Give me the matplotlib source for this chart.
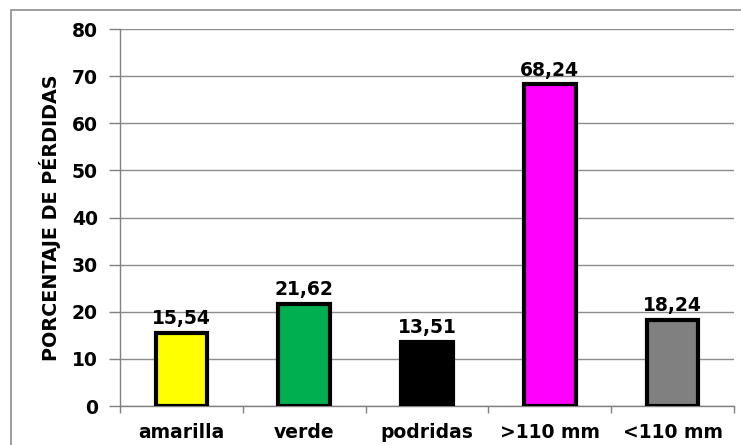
import numpy as np
import matplotlib.pyplot as plt
from matplotlib.patches import Rectangle

# datos
categorias = ['amarilla', 'verde', 'podridas', '>110 mm', '<110 mm']
porcentajes = [15.54, 21.62, 13.51, 68.24, 18.24]
colores = ['#FFFF00', '#00B050', '#000000', '#FF00FF', '#808080']
yticks = [0, 10, 20, 30, 40, 50, 60, 70, 80]

# DejaVu Sans Bold es mas ancha, se parece mas a la letra estirada del original
plt.rcParams['font.family'] = ['DejaVu Sans']
plt.rcParams['font.weight'] = 'bold'

fig = plt.figure(figsize=(7.41, 4.45), dpi=100)
ax = fig.add_axes([0.162, 0.0876, 0.8286, 0.8472])

# marco exterior
fig.patches.append(Rectangle((11/741, -0.05), 1.0, 1 - 10/445 + 0.05,
                             transform=fig.transFigure, fill=False,
                             edgecolor='#8c8c8c', linewidth=1.2))

x = np.arange(len(categorias))
ax.bar(x, porcentajes, width=0.42, color=colores, edgecolor='black', linewidth=3, zorder=3)

for xi, v in zip(x, porcentajes):
    ax.annotate(f'{v:.2f}'.replace('.', ','), (xi, v), xytext=(0, 3.5),
                textcoords='offset points', ha='center', va='bottom',
                fontsize=13.5, fontweight='bold', zorder=4)

ax.set_xlim(-0.5, len(categorias) - 0.5)
ax.set_ylim(0, 80)
ax.set_yticks(yticks)
ax.set_yticklabels([str(t) for t in yticks], fontsize=13.5, fontweight='bold')
ax.set_xticks(x)
ax.set_xticklabels(categorias, fontsize=13.5, fontweight='bold')
ax.set_xticks(np.arange(-0.5, len(categorias)), minor=True)
ax.tick_params(axis='x', which='major', length=0, pad=12)
ax.tick_params(axis='x', which='minor', length=5, color='#808080', width=1)
ax.tick_params(axis='y', length=8, color='#808080', width=1, pad=8)

ax.grid(axis='y', color='#8c8c8c', linewidth=1, zorder=0)
for s in ['top', 'right']:
    ax.spines[s].set_visible(False)
for s in ['left', 'bottom']:
    ax.spines[s].set_color('#808080')
    ax.spines[s].set_linewidth(1)

ax.set_ylabel('PORCENTAJE DE PÉRDIDAS', fontsize=13.8, fontweight='bold', labelpad=8)

plt.savefig('out.png', dpi=100)
